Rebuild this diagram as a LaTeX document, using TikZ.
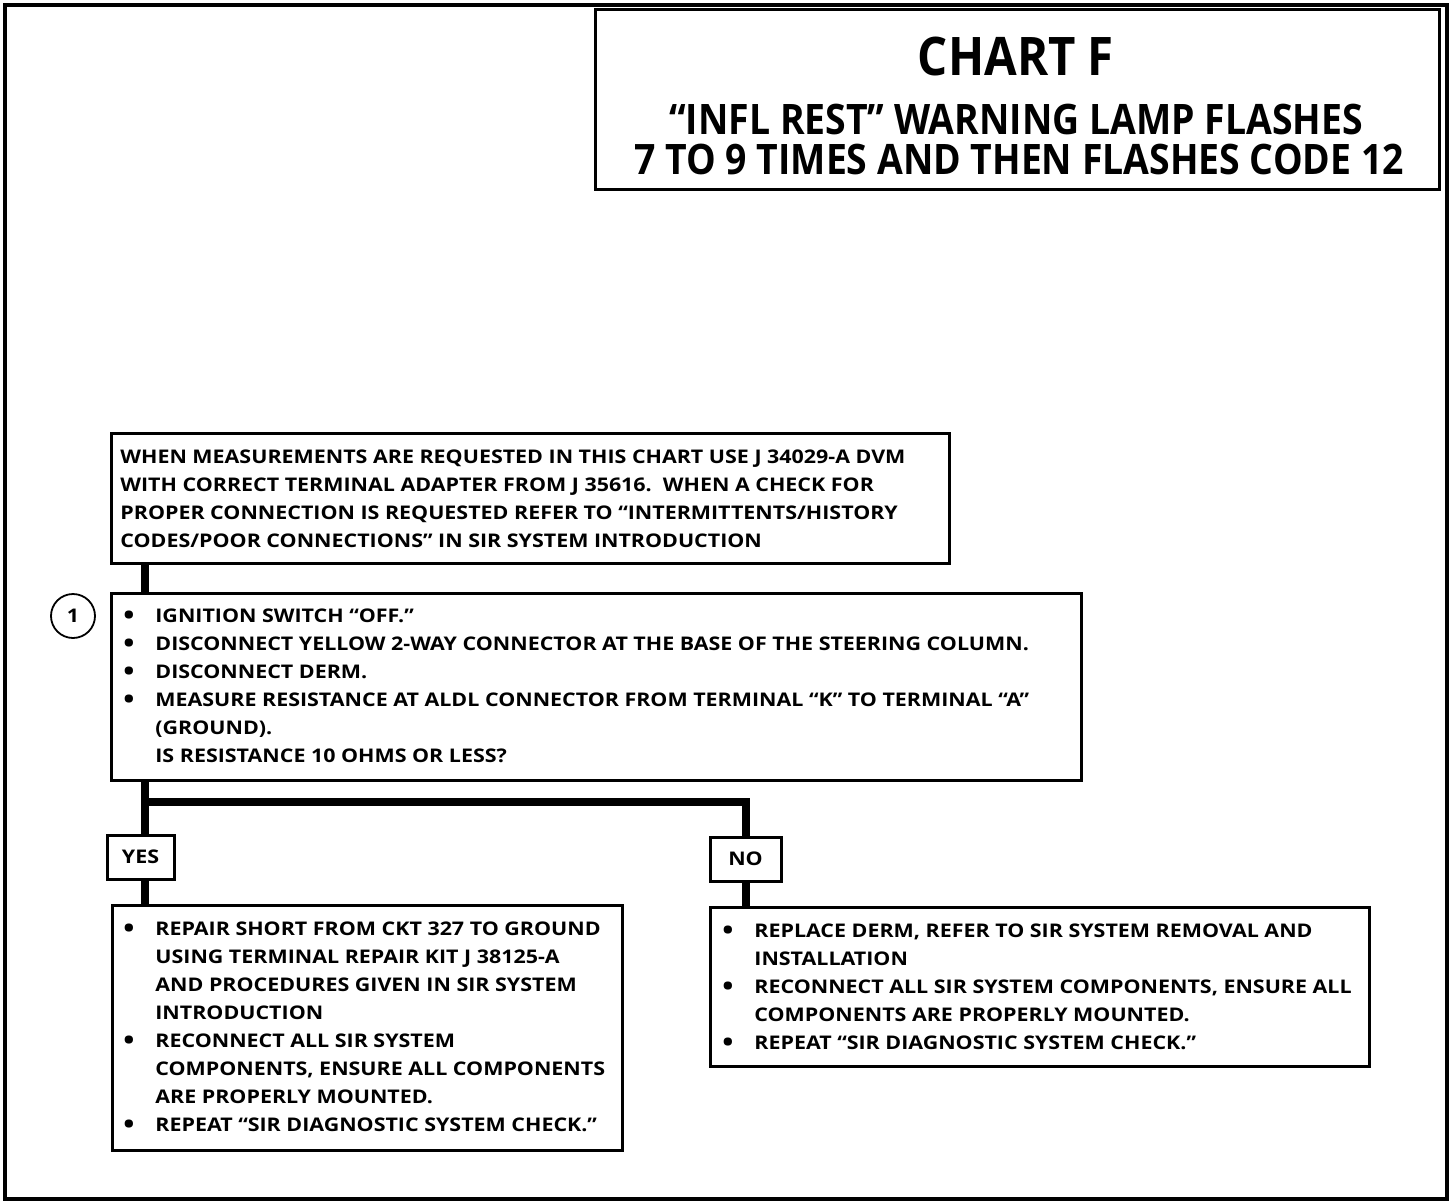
\documentclass[tikz,border=0pt]{standalone}
\usepackage{fontspec}
\newfontfamily\titlefont[FakeStretch=0.89]{Open Sans}
\newfontfamily\bodyfont[FakeStretch=1.14]{Open Sans}
\newcommand\blt{\raisebox{-1.1pt}{\fontsize{13}{14}\selectfont\textbullet}}
\begin{document}
\begin{tikzpicture}[x=0.5pt,y=-0.5pt,
  box/.style={draw, line width=1.5pt, rectangle, inner sep=0pt, anchor=north west},
  conn/.style={line width=4pt},
  txt/.style={inner sep=0pt, anchor=base west, font=\bodyfont\bfseries\fontsize{9.4}{14}\selectfont},
  lbl/.style={draw, line width=1.5pt, rectangle, inner sep=0pt, font=\bodyfont\bfseries\fontsize{9.4}{14}\selectfont},
  ttl/.style={inner sep=0pt, anchor=base}]
\useasboundingbox (0,0) rectangle (1456,1204);
\draw[line width=2pt] (5,5) rectangle (1447,1199);
% title
\node[box, minimum width=422pt, minimum height=90pt] (title) at (594,8) {};
\node[ttl, font=\titlefont\bfseries\fontsize{26.6}{30}\selectfont] (t1) at (1016,76) {CHART F};
\node[ttl, font=\titlefont\bfseries\fontsize{21}{24}\selectfont] (t2) at (1016,134) {“INFL REST” WARNING LAMP FLASHES};
\node[ttl, font=\titlefont\bfseries\fontsize{21}{24}\selectfont] (t3) at (1019,174) {7 TO 9 TIMES AND THEN FLASHES CODE 12};
% boxes
\node[box, minimum width=419pt, minimum height=65pt] (b1) at (110,432) {};
\node[txt] (b1t) at (120,463) {\begin{tabular}[t]{@{}l@{}}
WHEN MEASUREMENTS ARE REQUESTED IN THIS CHART USE J 34029-A DVM\\
WITH CORRECT TERMINAL ADAPTER FROM J 35616.\ \ WHEN A CHECK FOR\\
PROPER CONNECTION IS REQUESTED REFER TO “INTERMITTENTS/HISTORY\\
CODES/POOR CONNECTIONS” IN SIR SYSTEM INTRODUCTION
\end{tabular}};
\node[box, minimum width=485pt, minimum height=93.5pt] (b2) at (110,592) {};
\node[txt] (b2t) at (123,622) {\begin{tabular}[t]{@{}p{16pt}@{}l@{}}
\blt & IGNITION SWITCH “OFF.”\\
\blt & DISCONNECT YELLOW 2-WAY CONNECTOR AT THE BASE OF THE STEERING COLUMN.\\
\blt & DISCONNECT DERM.\\
\blt & MEASURE RESISTANCE AT ALDL CONNECTOR FROM TERMINAL “K” TO TERMINAL “A”\\
 & (GROUND).\\
 & IS RESISTANCE 10 OHMS OR LESS?
\end{tabular}};
\node[circle, draw, line width=0.9pt, minimum size=22pt, inner sep=0pt, font=\bodyfont\bfseries\fontsize{9.4}{14}\selectfont] (c1) at (73,616) {1};
\node[lbl, minimum width=33.5pt, minimum height=22pt] (yes) at (140.5,857) {YES};
\node[lbl, minimum width=35.5pt, minimum height=22pt] (no) at (745.5,859) {NO};
\node[box, minimum width=255pt, minimum height=122.5pt] (b3) at (111,904) {};
\node[txt] (b3t) at (123,935) {\begin{tabular}[t]{@{}p{16pt}@{}l@{}}
\blt & REPAIR SHORT FROM CKT 327 TO GROUND\\
 & USING TERMINAL REPAIR KIT J 38125-A\\
 & AND PROCEDURES GIVEN IN SIR SYSTEM\\
 & INTRODUCTION\\
\blt & RECONNECT ALL SIR SYSTEM\\
 & COMPONENTS, ENSURE ALL COMPONENTS\\
 & ARE PROPERLY MOUNTED.\\
\blt & REPEAT “SIR DIAGNOSTIC SYSTEM CHECK.”
\end{tabular}};
\node[box, minimum width=329.5pt, minimum height=79.5pt] (b4) at (709,906) {};
\node[txt] (b4t) at (722,937) {\begin{tabular}[t]{@{}p{16pt}@{}l@{}}
\blt & REPLACE DERM, REFER TO SIR SYSTEM REMOVAL AND\\
 & INSTALLATION\\
\blt & RECONNECT ALL SIR SYSTEM COMPONENTS, ENSURE ALL\\
 & COMPONENTS ARE PROPERLY MOUNTED.\\
\blt & REPEAT “SIR DIAGNOSTIC SYSTEM CHECK.”
\end{tabular}};
% connectors
\coordinate (tl) at (145,0);
\coordinate (split) at (745.5,802);
\draw[conn] (b1.south -| tl) -- (b2.north -| tl);
\draw[conn] (b2.south -| tl) -- (yes.north -| tl);
\draw[conn] (tl |- split) -- (split) -- (no.north);
\draw[conn] (yes.south -| tl) -- (b3.north -| tl);
\draw[conn] (no.south) -- (b4.north -| no.south);
\end{tikzpicture}
\end{document}
